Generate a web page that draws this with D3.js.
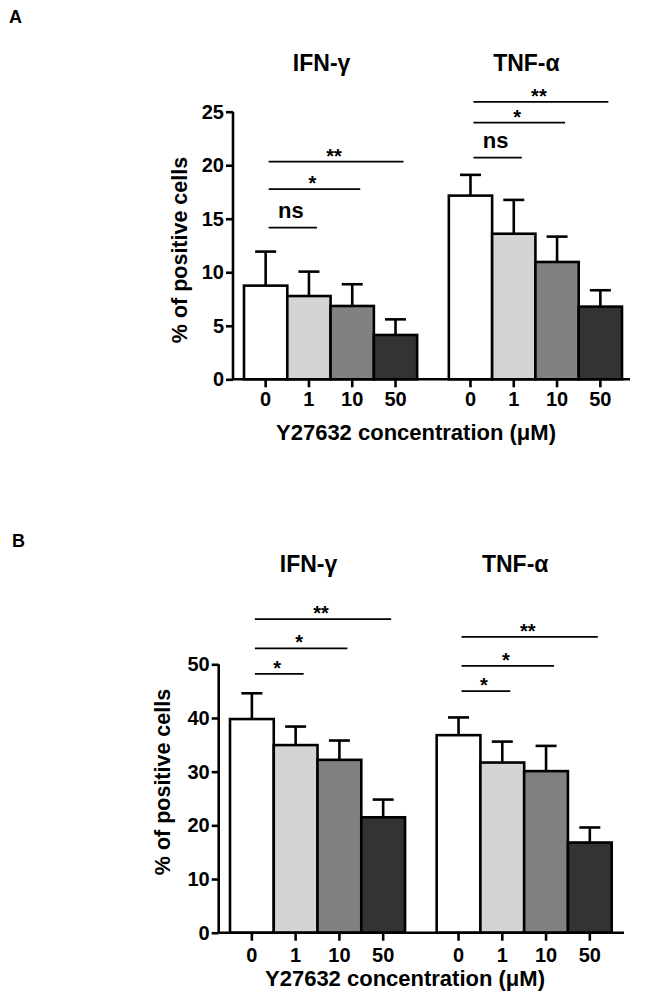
<!DOCTYPE html>
<html>
<head>
<meta charset="utf-8">
<script src="https://cdn.jsdelivr.net/npm/d3@7"></script>
<style>
  html, body { margin: 0; padding: 0; background: #fff; }
  svg text { font-family: "Liberation Sans", Arial, sans-serif; font-weight: bold; fill: #000; }
</style>
</head>
<body>
<svg id="chart" width="645" height="1008"></svg>
<script>
// ---------- data ----------
const groups = ["IFN-γ", "TNF-α"];
const doses = ["0", "1", "10", "50"];
const doseColors = ["#ffffff", "#d4d4d4", "#818181", "#333333"];
const xTitle = "Y27632 concentration (μM)";
const yTitle = "% of positive cells";

// Panel A
const ticksA = [0, 5, 10, 15, 20, 25];
const meanA_IFN = [8.75, 7.78, 6.85, 4.14];
const errA_IFN  = [3.18, 2.28, 2.03, 1.46];
const meanA_TNF = [17.16, 13.6, 10.96, 6.79];
const errA_TNF  = [1.94, 3.16, 2.37, 1.53];
const sigA_IFN = [{to: "1", y: 14.17, label: "ns"}, {to: "10", y: 17.76, label: "*"}, {to: "50", y: 20.34, label: "**"}];
const sigA_TNF = [{to: "1", y: 20.71, label: "ns"}, {to: "10", y: 23.98, label: "*"}, {to: "50", y: 25.92, label: "**"}];

// Panel B
const ticksB = [0, 10, 20, 30, 40, 50];
const meanB_IFN = [39.8, 34.95, 32.2, 21.5];
const errB_IFN  = [4.8, 3.45, 3.6, 3.3];
const meanB_TNF = [36.8, 31.7, 30.1, 16.8];
const errB_TNF  = [3.3, 3.9, 4.7, 2.8];
const sigB_IFN = [{to: "1", y: 48.2, label: "*"}, {to: "10", y: 52.96, label: "*"}, {to: "50", y: 58.4, label: "**"}];
const sigB_TNF = [{to: "1", y: 45.0, label: "*"}, {to: "10", y: 49.7, label: "*"}, {to: "50", y: 55.1, label: "**"}];

// ---------- drawing ----------
const svg = d3.select("#chart");

function drawPanel(cfg) {
  const g = svg.append("g");
  const x0 = d3.scaleBand().domain(groups).range([cfg.barsLeft, cfg.barsRight]).paddingInner(cfg.groupPad);
  const x1 = d3.scaleBand().domain(doses).range([0, x0.bandwidth()]).padding(0);
  const y = d3.scaleLinear().domain([0, cfg.ticks[cfg.ticks.length - 1]]).range([cfg.yBottom, cfg.yTop]);
  const color = d3.scaleOrdinal().domain(doses).range(doseColors);

  // panel letter
  g.append("text").attr("x", cfg.letterX).attr("y", cfg.letterY).style("font-size", "18px").text(cfg.letter);

  const series = [
    {group: groups[0], mean: cfg.meanIFN, err: cfg.errIFN, sig: cfg.sigIFN},
    {group: groups[1], mean: cfg.meanTNF, err: cfg.errTNF, sig: cfg.sigTNF}
  ];

  series.forEach(s => {
    const gx = x0(s.group);
    const rows = doses.map((d, i) => ({dose: d, mean: s.mean[i], err: s.err[i]}));
    const gg = g.append("g").attr("transform", `translate(${gx},0)`);

    // error bars
    gg.selectAll("line.eb").data(rows).join("line")
      .attr("x1", d => x1(d.dose) + x1.bandwidth() / 2)
      .attr("x2", d => x1(d.dose) + x1.bandwidth() / 2)
      .attr("y1", d => y(d.mean))
      .attr("y2", d => y(d.mean + d.err))
      .attr("stroke", "#000").attr("stroke-width", 2.6);
    gg.selectAll("line.cap").data(rows).join("line")
      .attr("x1", d => x1(d.dose) + x1.bandwidth() / 2 - 10.5)
      .attr("x2", d => x1(d.dose) + x1.bandwidth() / 2 + 10.5)
      .attr("y1", d => y(d.mean + d.err))
      .attr("y2", d => y(d.mean + d.err))
      .attr("stroke", "#000").attr("stroke-width", 2.6);

    // bars
    gg.selectAll("rect").data(rows).join("rect")
      .attr("x", d => x1(d.dose))
      .attr("width", x1.bandwidth())
      .attr("y", d => y(d.mean))
      .attr("height", d => y(0) - y(d.mean))
      .attr("fill", d => color(d.dose))
      .attr("stroke", "#000").attr("stroke-width", 2.6);

    // group title
    g.append("text")
      .attr("x", gx + x0.bandwidth() / 2 - 9)
      .attr("y", cfg.titleY)
      .attr("text-anchor", "middle")
      .style("font-size", "23px")
      .text(s.group);

    // significance annotations
    const c0 = x1("0") + x1.bandwidth() / 2;
    s.sig.forEach(a => {
      const xa = c0 + 3;
      const xb = x1(a.to) + x1.bandwidth() / 2 + 8;
      const yy = y(a.y);
      gg.append("line").attr("x1", xa).attr("x2", xb).attr("y1", yy).attr("y2", yy)
        .attr("stroke", "#000").attr("stroke-width", 1.8);
      const isNs = a.label === "ns";
      gg.append("text")
        .attr("x", (xa + xb) / 2 - 2)
        .attr("y", isNs ? yy - 10 : yy + 1)
        .attr("text-anchor", "middle")
        .style("font-size", isNs ? "22px" : "20px")
        .text(a.label);
    });
  });

  // y axis
  const yAxis = d3.axisLeft(y).tickValues(cfg.ticks).tickSize(7).tickPadding(2).tickFormat(d3.format("d"));
  const ya = g.append("g").attr("transform", `translate(${cfg.axisX},0)`).call(yAxis);
  ya.select(".domain").attr("d", `M0,${cfg.yTop}V${cfg.yBottom}`).attr("stroke-width", 2.6);
  ya.selectAll(".tick line").attr("stroke-width", 2.6);
  ya.selectAll(".tick text").style("font-size", "20px").style("font-family", null);

  // x axis (ticks at bar centres)
  const tickData = [];
  groups.forEach(gr => doses.forEach(d => tickData.push({gr, d})));
  const xa = g.append("g");
  xa.append("line").attr("x1", cfg.axisX).attr("x2", cfg.xAxisEnd)
    .attr("y1", y(0)).attr("y2", y(0)).attr("stroke", "#000").attr("stroke-width", 2.6);
  tickData.forEach(t => {
    const cx = x0(t.gr) + x1(t.d) + x1.bandwidth() / 2;
    xa.append("line").attr("x1", cx).attr("x2", cx).attr("y1", y(0)).attr("y2", y(0) + 8)
      .attr("stroke", "#000").attr("stroke-width", 2.6);
    xa.append("text").attr("x", cx).attr("y", y(0) + cfg.xTickLabelDy)
      .attr("text-anchor", "middle").style("font-size", "20px").text(t.d);
  });

  // axis titles
  g.append("text").attr("x", cfg.xTitleX).attr("y", cfg.xTitleY).attr("text-anchor", "middle")
    .style("font-size", "22px").text(xTitle);
  g.append("text").attr("transform", `translate(${cfg.yTitleX},${cfg.yTitleY}) rotate(-90)`)
    .attr("text-anchor", "middle").style("font-size", "21.5px").text(yTitle);
}

drawPanel({
  letter: "A", letterX: 9, letterY: 23,
  ticks: ticksA, yTop: 111.7, yBottom: 379.3,
  axisX: 233, barsLeft: 244, barsRight: 622, groupPad: 0.1546, xAxisEnd: 630,
  meanIFN: meanA_IFN, errIFN: errA_IFN, meanTNF: meanA_TNF, errTNF: errA_TNF,
  sigIFN: sigA_IFN, sigTNF: sigA_TNF,
  titleY: 70.5, xTickLabelDy: 27, xTitleX: 416, xTitleY: 440, yTitleX: 187, yTitleY: 250
});

drawPanel({
  letter: "B", letterX: 12, letterY: 546.7,
  ticks: ticksB, yTop: 664.3, yBottom: 932.7,
  axisX: 218.7, barsLeft: 230, barsRight: 611.7, groupPad: 0.153, xAxisEnd: 624,
  meanIFN: meanB_IFN, errIFN: errB_IFN, meanTNF: meanB_TNF, errTNF: errB_TNF,
  sigIFN: sigB_IFN, sigTNF: sigB_TNF,
  titleY: 571.7, xTickLabelDy: 29, xTitleX: 405, xTitleY: 986, yTitleX: 170, yTitleY: 782
});
</script>
</body>
</html>
